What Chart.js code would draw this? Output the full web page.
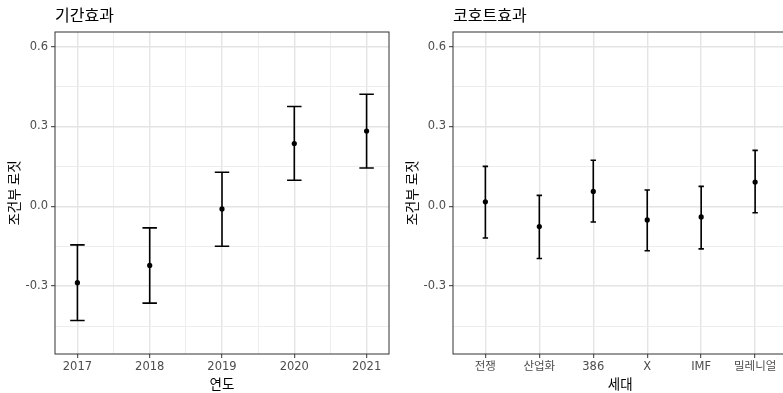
<!DOCTYPE html>
<html lang="ko">
<head>
  <meta charset="UTF-8">
  <title>기간효과 / 코호트효과</title>
  <script src="https://cdn.jsdelivr.net/npm/chart.js"></script>
  <style>
    html, body { margin: 0; padding: 0; background: #fff; overflow: hidden; }
    .wrap { position: relative; width: 783px; height: 393px; overflow: hidden; }
    canvas { position: absolute; top: 0; }
    #period-chart { left: 0; }
    #cohort-chart { left: 398px; }
  </style>
</head>
<body>
<div class="wrap">
  <canvas id="period-chart" width="394" height="393"></canvas>
  <canvas id="cohort-chart" width="395" height="393"></canvas>
</div>
<script>
// period effect (left panel)
const years = [2017, 2018, 2019, 2020, 2021];
const periodEst = [-0.287, -0.222, -0.010, 0.236, 0.283];
const periodLow = [-0.429, -0.364, -0.150, 0.098, 0.144];
const periodHigh = [-0.145, -0.081, 0.128, 0.375, 0.421];

// cohort effect (right panel)
const cohorts = ['전쟁', '산업화', '386', 'X', 'IMF', '밀레니얼'];
const cohortEst = [0.017, -0.076, 0.056, -0.051, -0.040, 0.091];
const cohortLow = [-0.119, -0.196, -0.059, -0.167, -0.160, -0.024];
const cohortHigh = [0.150, 0.041, 0.173, 0.061, 0.075, 0.210];

// y axis ticks (major get labels, minor only grid)
const yMajor = [-0.3, 0.0, 0.3, 0.6];
const yMinor = [-0.45, -0.15, 0.15, 0.45];

const FONT = "'Noto Sans CJK KR', 'Noto Sans', sans-serif";
const TICK_FONT = "'DejaVu Sans', 'Noto Sans CJK KR', sans-serif";
const yTicks = yMajor.concat(yMinor).sort((a, b) => a - b);
const isIn = (arr, v) => arr.some(m => Math.abs(m - v) < 1e-9);

// error bars drawn from dataset.low / dataset.high through the scales
const errorBars = {
  id: 'errorBars',
  beforeDatasetsDraw(chart) {
    const { ctx, scales: { x, y } } = chart;
    const ds = chart.data.datasets[0];
    ctx.save();
    ctx.strokeStyle = '#000';
    ctx.lineWidth = 1.6;
    ds.data.forEach((pt, i) => {
      const px = x.getPixelForValue(pt.x);
      const top = y.getPixelForValue(ds.high[i]);
      const bot = y.getPixelForValue(ds.low[i]);
      const half = Math.abs(x.getPixelForValue(pt.x + ds.capWidth / 2) - px);
      ctx.beginPath();
      ctx.moveTo(px, top); ctx.lineTo(px, bot);
      ctx.moveTo(px - half, top); ctx.lineTo(px + half, top);
      ctx.moveTo(px - half, bot); ctx.lineTo(px + half, bot);
      ctx.stroke();
    });
    ctx.restore();
  }
};

// theme_bw style panel border
const panelBorder = {
  id: 'panelBorder',
  afterDraw(chart) {
    const { ctx, chartArea: a } = chart;
    ctx.save();
    ctx.strokeStyle = '#333';
    ctx.lineWidth = 1;
    ctx.strokeRect(a.left, a.top, a.right - a.left, a.bottom - a.top);
    ctx.restore();
  }
};

function yScale() {
  return {
    min: -0.555,
    max: 0.655,
    afterBuildTicks: s => { s.ticks = yTicks.map(v => ({ value: v })); },
    afterFit: s => { s.width = 55; },
    border: { display: false },
    grid: {
      color: c => (c.tick && isIn(yMajor, c.tick.value)) ? '#e4e4e4' : '#ededed',
      lineWidth: c => (c.tick && isIn(yMajor, c.tick.value)) ? 1.4 : 1,
      tickLength: 4,
      tickWidth: 1,
      tickColor: c => (c.tick && isIn(yMajor, c.tick.value)) ? '#333' : 'rgba(0,0,0,0)'
    },
    ticks: {
      callback: v => isIn(yMajor, v) ? v.toFixed(1) : '',
      color: '#4d4d4d',
      font: { family: TICK_FONT, size: 11.5 },
      padding: 3,
      autoSkip: false
    },
    title: {
      display: true,
      text: '조건부 로짓',
      color: '#000',
      font: { family: FONT, size: 13.5 },
      padding: { top: 6, bottom: 0 }
    }
  };
}

function xScale(min, max, tickVals, isMajorX, label, titleText) {
  return {
    type: 'linear',
    min: min,
    max: max,
    afterBuildTicks: s => { s.ticks = tickVals.map(v => ({ value: v })); },
    afterFit: s => { s.height = 39; },
    border: { display: false },
    grid: {
      color: c => (c.tick && isMajorX(c.tick.value)) ? '#e4e4e4' : '#ededed',
      lineWidth: c => (c.tick && isMajorX(c.tick.value)) ? 1.4 : 1,
      tickLength: 4,
      tickWidth: 1,
      tickColor: c => (c.tick && isMajorX(c.tick.value)) ? '#333' : 'rgba(0,0,0,0)'
    },
    ticks: {
      callback: v => isMajorX(v) ? label(v) : '',
      color: '#4d4d4d',
      font: { family: TICK_FONT, size: 11.5 },
      padding: 2,
      autoSkip: false,
      maxRotation: 0
    },
    title: {
      display: true,
      text: titleText,
      color: '#000',
      font: { family: FONT, size: 13.5 },
      padding: { top: 0, bottom: 1.5 }
    }
  };
}

function makeChart(id, titleText, xs, est, low, high, capWidth, xOpts, padRight) {
  return new Chart(document.getElementById(id).getContext('2d'), {
    type: 'scatter',
    data: {
      datasets: [{
        data: xs.map((v, i) => ({ x: v, y: est[i] })),
        low: low,
        high: high,
        capWidth: capWidth,
        pointRadius: 2.6,
        pointBackgroundColor: '#000',
        pointBorderWidth: 0,
        showLine: false
      }]
    },
    options: {
      responsive: false,
      animation: false,
      layout: { padding: { left: 0, right: padRight, top: 0, bottom: 0 } },
      plugins: {
        legend: { display: false },
        tooltip: { enabled: false },
        title: {
          display: true,
          text: titleText,
          align: 'start',
          fullSize: false,
          color: '#000',
          font: { family: FONT, size: 16, weight: 'normal' },
          padding: { top: 5, bottom: 7.8 }
        }
      },
      scales: { x: xOpts, y: yScale() }
    },
    plugins: [errorBars, panelBorder]
  });
}

// left: continuous years, minor grid at half years
const yearTicks = years.flatMap((yr, i) => i < years.length - 1 ? [yr, (yr + years[i + 1]) / 2] : [yr]);
makeChart('period-chart', '기간효과', years, periodEst, periodLow, periodHigh, 0.2,
  xScale(2016.69, 2021.31, yearTicks, v => Number.isInteger(v), v => String(v), '연도'), 5);

// right: discrete cohorts
const cohortIdx = cohorts.map((c, i) => i);
makeChart('cohort-chart', '코호트효과', cohortIdx, cohortEst, cohortLow, cohortHigh, 0.1,
  xScale(-0.6, cohorts.length - 0.4, cohortIdx, v => Number.isInteger(v), v => cohorts[v], '세대'), 5.5);
</script>
</body>
</html>
